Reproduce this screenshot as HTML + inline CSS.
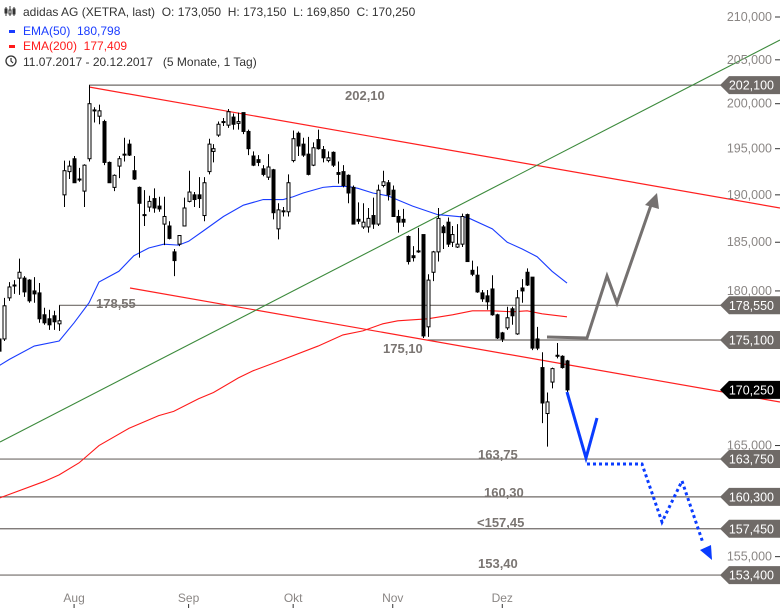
<!DOCTYPE html>
<html><head><meta charset="utf-8"><style>
html,body{margin:0;padding:0;background:#fff;}
svg{display:block;font-family:"Liberation Sans",sans-serif;}
</style></head><body>
<svg id="chart" width="780" height="608" viewBox="0 0 780 608" xmlns="http://www.w3.org/2000/svg">
<g id="grid"></g>
<g id="trend"></g>
<g id="ema"></g>
<g id="candles"></g>
<g id="scen"></g>
<g id="yaxis"></g>
<g id="xaxis"></g>
<g id="legend" font-size="12">
  <g stroke="#333" stroke-width="1" fill="none">
    <line x1="6" y1="7" x2="6" y2="16"/><rect x="5" y="9" width="2" height="4" fill="#333"/>
    <line x1="10" y1="6" x2="10" y2="16"/><rect x="9" y="10" width="2" height="4" fill="#fff"/>
    <line x1="14" y1="7" x2="14" y2="16"/><rect x="13" y="9" width="2" height="5" fill="#333"/>
  </g>
  <text x="23" y="16" fill="#333" xml:space="preserve">adidas AG (XETRA, last)  O: 173,050  H: 173,150  L: 169,850  C: 170,250</text>
  <rect x="9" y="30" width="6" height="3" fill="#1a3cff"/>
  <text x="23" y="35" fill="#1a3cff" xml:space="preserve">EMA(50)  180,798</text>
  <rect x="9" y="45" width="6" height="3" fill="#ff1a1a"/>
  <text x="23" y="50" fill="#ff1a1a" xml:space="preserve">EMA(200)  177,409</text>
  <circle cx="11" cy="61" r="5" fill="none" stroke="#333" stroke-width="1.3"/>
  <path d="M11 58 V61 L13 63" stroke="#333" stroke-width="1.2" fill="none"/>
  <text x="23" y="66" fill="#333" xml:space="preserve">11.07.2017 - 20.12.2017   (5 Monate, 1 Tag)</text>
</g>
</svg>
<script>
const opens=[175.2,175.2,179.3,180.5,181.3,181.3,181.1,180.0,179.8,177.6,
177.2,177.5,176.7,190.0,192.5,193.9,191.6,190.4,193.9,199.2,
198.6,198.0,193.5,190.8,193.1,194.3,195.5,192.6,190.8,187.8,
188.7,189.6,188.8,186.9,186.7,184.0,184.8,186.7,189.3,190.0,
190.0,187.8,192.5,194.7,196.5,197.9,197.6,198.5,197.8,199.0,
196.9,194.2,193.8,192.8,191.9,192.7,186.4,188.2,188.2,193.7,
196.7,195.5,194.4,193.2,196.0,194.9,193.7,194.6,192.4,192.5,
192.1,190.8,187.4,186.6,186.6,187.8,186.9,191.0,191.3,190.5,
187.7,187.4,185.6,183.6,184.0,185.8,176.4,181.9,184.0,186.6,
187.1,185.0,184.5,184.8,187.9,182.1,181.6,179.8,179.5,180.2,
177.6,175.8,176.3,178.2,175.7,180.3,181.9,181.4,175.2,172.4,
168.0,171.0,173.5,173.5,173.05];
const highs=[175.7,179.3,180.9,181.1,183.3,181.5,181.2,181.4,180.8,178.3,
178.1,178.0,178.55,193.7,193.7,194.2,192.9,193.3,202.1,199.6,
199.9,198.2,193.6,192.2,194.2,196.2,196.0,194.2,190.9,190.5,
189.9,190.7,189.8,189.8,187.2,184.3,185.7,189.7,192.6,190.3,
191.9,191.9,196.1,195.5,198.0,198.4,199.4,198.9,199.0,199.0,
197.1,194.7,194.3,193.2,194.4,192.8,189.1,188.7,192.2,197.0,
196.9,196.2,196.3,195.7,197.1,195.3,194.7,194.7,193.6,193.2,
192.2,191.0,189.2,189.1,188.6,189.7,191.1,192.6,191.6,191.0,
188.4,188.5,185.7,184.6,186.5,185.8,181.7,184.1,188.6,186.8,
187.6,186.7,186.9,188.0,188.0,183.1,182.5,180.1,180.1,181.6,
177.7,175.9,178.4,178.4,180.1,181.2,182.3,181.4,176.4,173.9,
170.0,172.4,174.8,173.6,173.15];
const lows=[173.7,175.0,179.0,179.7,179.6,179.4,178.8,178.8,176.8,176.6,
176.1,176.1,176.0,188.7,191.7,191.3,191.4,188.7,193.6,197.9,
197.7,193.2,191.3,190.4,191.8,193.6,194.2,191.6,183.4,186.7,
188.2,188.1,188.2,184.7,185.3,181.5,184.6,186.7,189.2,188.7,
188.6,187.2,192.2,193.5,196.3,197.5,197.3,197.1,197.1,196.6,
194.3,193.1,193.1,192.0,191.6,187.4,185.3,187.7,187.7,193.5,
194.2,194.1,192.1,193.1,194.9,193.5,193.5,193.0,191.2,190.8,
189.1,186.9,186.9,186.4,186.0,186.4,186.7,190.8,189.4,187.7,
186.0,186.6,182.7,183.0,183.9,175.3,175.4,181.0,183.0,184.3,
184.5,184.5,184.4,184.5,183.0,181.5,179.8,178.9,178.1,177.5,
175.2,174.9,176.1,176.6,175.6,178.8,180.5,174.1,174.1,167.1,
164.9,170.4,173.3,172.3,169.85];
const closes=[174.0,178.5,180.4,180.6,181.9,179.9,179.0,179.7,177.2,176.8,
176.6,176.9,177.0,192.6,193.1,191.3,191.7,193.2,200.0,199.3,
199.2,193.5,191.3,192.1,193.9,194.4,194.3,191.7,189.1,187.9,
189.3,188.6,188.5,187.7,185.4,183.1,185.7,188.6,190.3,189.5,
189.6,191.3,195.5,195.0,197.7,198.0,199.1,197.7,198.0,196.9,
195.0,193.2,193.5,192.2,193.0,188.1,188.4,188.3,191.3,196.1,
195.3,194.3,192.2,195.1,195.0,194.0,194.0,193.2,192.2,191.0,
190.2,186.9,187.2,187.1,187.5,186.9,190.5,191.4,190.0,187.7,
187.1,187.1,183.0,183.4,184.1,175.5,181.1,184.0,187.5,186.0,
184.8,185.8,184.8,187.7,183.0,181.7,179.9,179.2,178.9,177.6,
175.3,175.2,177.3,177.5,179.3,180.0,180.6,174.3,174.3,169.0,
169.1,172.3,173.6,172.4,170.25];
const ema50Idx=[0,2,7,12,15,18,20,24,27,30,33,36,38,41,45,49,53,57,59,61,65,67,70,72,75,78,83,88,94,99,102,105,108,111,114];
const ema50Val=[172.6,173.2,174.5,175.0,176.8,178.8,180.9,182.0,183.6,184.4,184.8,184.7,185.1,186.2,187.7,188.9,189.5,189.5,189.8,190.2,190.8,190.9,190.9,190.7,190.2,189.9,188.8,187.9,187.6,186.4,185.0,184.3,183.5,182.0,180.8];
const ema200Idx=[0,9,12,16,20,26,32,35,40,43,48,51,56,64,69,73,77,80,86,91,95,99,103,106,109,114];
const ema200Val=[160.2,161.7,162.3,163.4,165.0,166.6,167.8,168.2,169.4,170.0,171.4,172.1,173.0,174.5,175.6,176.0,176.7,177.0,177.2,177.6,178.0,178.0,177.9,178.0,177.7,177.4];
const yTicks=[210,205,200,195,190,185,180,165,155];
const levelVals=[202.1,178.55,175.1,163.75,160.3,157.45,153.4];
const levelLabels=["202,10","178,55","175,10","163,75","160,30","<157,45","153,40"];
const levelStartIdx=[18,12,86,-1,-1,-1,-1];
const months=["Aug","Sep","Okt","Nov","Dez"];
const monthIdx=[15,38,59,79,101];

const NS="http://www.w3.org/2000/svg";
function y(p){return 17+1777*Math.log(210/p);}
function x(i){return -0.6+i*4.979;}
function mk(tag,attrs,parent){const e=document.createElementNS(NS,tag);for(const k in attrs)e.setAttribute(k,attrs[k]);parent.appendChild(e);return e;}
const fmt=v=>v.toFixed(3).replace('.',',');

const grid=document.getElementById('grid');
const labelPos=[[345,100],[96,308],[383,353],[478,459],[484,497],[477,527],[478,568]];
levelVals.forEach((v,k)=>{
  const x0=levelStartIdx[k]<0?0:x(levelStartIdx[k]);
  const l=mk('line',{x1:x0,x2:722,y1:y(v),y2:y(v),stroke:'#6f6a67','stroke-width':1.2},grid);
  
  
  const t=mk('text',{x:labelPos[k][0],y:labelPos[k][1],fill:'#7a7572','font-size':'13','font-weight':'bold'},grid);
  t.textContent=levelLabels[k];
  
  
});

const tr=document.getElementById('trend');
const t1=mk('line',{x1:89,y1:87,x2:780,y2:208,stroke:'#ff2020','stroke-width':1.2},tr);

const t2=mk('line',{x1:130,y1:288,x2:780,y2:402,stroke:'#ff2020','stroke-width':1.2},tr);

const t3=mk('line',{x1:0,y1:442,x2:780,y2:40,stroke:'#3c8a3c','stroke-width':1.1},tr);


const em=document.getElementById('ema');
const p50=mk('polyline',{points:ema50Idx.map((i,k)=>x(i)+','+y(ema50Val[k])).join(' '),fill:'none',stroke:'#1a3cff','stroke-width':1.1},em);

const p200=mk('polyline',{points:ema200Idx.map((i,k)=>x(i)+','+y(ema200Val[k])).join(' '),fill:'none',stroke:'#ff1a1a','stroke-width':1.1},em);


const cg=document.getElementById('candles');
opens.forEach((o,i)=>{
  const c=closes[i],cx=Math.round(x(i))+0.5;
  const g=mk('g',{},cg);
  
  
  mk('line',{x1:cx,x2:cx,y1:y(highs[i]),y2:y(lows[i]),stroke:'#000','stroke-width':1},g);
  const top=y(Math.max(o,c)),bot=y(Math.min(o,c));
  mk('rect',{x:cx-1.5,y:top,width:3,height:Math.max(1,bot-top),fill:c>=o?'#fff':'#000',stroke:'#000','stroke-width':1},g);
});

const sc=document.getElementById('scen');
const g1=mk('polyline',{points:'547,337 587,338 607,276 617,303 651,205',fill:'none',stroke:'#757170','stroke-width':3,'stroke-linejoin':'miter'},sc);

const g1h=mk('polygon',{points:'657,193 645,205 659,209',fill:'#757170'},sc);

const b1=mk('polyline',{points:'567,392 586,458 597,418',fill:'none',stroke:'#0a3cff','stroke-width':3},sc);

const b2=mk('polyline',{points:'587,464 642,464 662,522 682,481 703,543',fill:'none',stroke:'#0a3cff','stroke-width':3,'stroke-dasharray':'3 3'},sc);

const b2h=mk('polygon',{points:'712,560 700,550 711,545',fill:'#0a3cff'},sc);


const ya=document.getElementById('yaxis');
yTicks.forEach(v=>{
  const yy=y(v);
  mk('line',{x1:775,x2:780,y1:yy,y2:yy,stroke:'#333','stroke-width':1},ya);
  const t=mk('text',{x:772,y:yy+4,'text-anchor':'end',fill:'#8a8684','font-size':'12.5'},ya);
  t.textContent=fmt(v);
  
  
});
levelVals.concat([closes[closes.length-1]]).forEach((v,k)=>{
  const yy=y(v),last=k===levelVals.length;
  const g=mk('g',{},ya);
  
  
  mk('polygon',{points:`720,${yy} 729,${yy-9} 780,${yy-9} 780,${yy+9} 729,${yy+9}`,fill:last?'#000':'#6f6a67'},g);
  const t=mk('text',{x:774,y:yy+4.5,'text-anchor':'end',fill:'#fff','font-size':'12.5'},g);
  t.textContent=fmt(v);
});

const xa=document.getElementById('xaxis');
months.forEach((m,k)=>{
  const xx=x(monthIdx[k]);
  mk('line',{x1:xx,x2:xx,y1:604,y2:608,stroke:'#333','stroke-width':1},xa);
  const t=mk('text',{x:xx,y:602,'text-anchor':'middle',fill:'#8a8684','font-size':'12'},xa);
  t.textContent=m;
  
  
});
</script>
</body></html>
